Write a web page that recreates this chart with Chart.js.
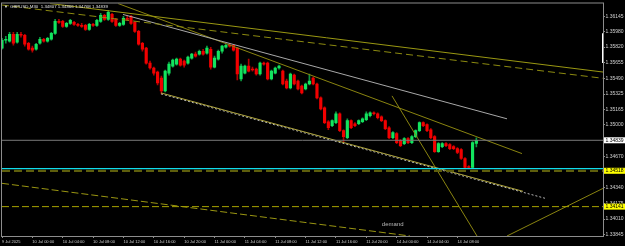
<!DOCTYPE html>
<html>
<head>
<meta charset="utf-8">
<script src="https://cdn.jsdelivr.net/npm/chart.js@4.4.1/dist/chart.umd.min.js"></script>
<style>
  html, body { margin: 0; padding: 0; background: #000; }
  canvas { display: block; }
</style>
</head>
<body>
<canvas id="c" width="625" height="246"></canvas>
<script>
// ---------- DATA ----------
const symbol = 'GBPUSD,M30';
const xTickIdx = [0, 8, 16, 24, 32, 40, 48, 56, 64, 72, 80, 88, 96, 104, 112, 120];
const xTickLabels = ['9 Jul 2025', '10 Jul 00:00', '10 Jul 04:00', '10 Jul 08:00', '10 Jul 12:00', '10 Jul 16:00',
  '10 Jul 20:00', '11 Jul 00:00', '11 Jul 04:00', '11 Jul 08:00', '11 Jul 12:00', '11 Jul 16:00',
  '11 Jul 20:00', '14 Jul 00:00', '14 Jul 04:00', '14 Jul 08:00'];
const yTicks = [1.36145, 1.35980, 1.35820, 1.35655, 1.35490, 1.35325, 1.35165, 1.35000,
  1.34670, 1.34505, 1.34340, 1.34175, 1.34010, 1.33845];
const yMin = 1.33832, yMax = 1.36278;
const xMax = 158.37;

const opens = [
  1.35808, 1.35891, 1.35881, 1.35954, 1.35870, 1.35954, 1.35944, 1.35860, 1.35808, 1.35797,
  1.35860, 1.35902, 1.35881, 1.35902, 1.35964, 1.36090, 1.36090, 1.36038, 1.36069, 1.36079,
  1.36059, 1.36048, 1.36048, 1.36006, 1.36059, 1.36048, 1.36090, 1.36153, 1.36111, 1.36163,
  1.36111, 1.36048, 1.36059, 1.36121, 1.36142, 1.36079, 1.35985, 1.35860, 1.35808, 1.35651,
  1.35599, 1.35557, 1.35494, 1.35358, 1.35546, 1.35619, 1.35640, 1.35693, 1.35672, 1.35651,
  1.35703, 1.35745, 1.35745, 1.35776, 1.35755, 1.35797, 1.35609, 1.35693, 1.35776, 1.35818,
  1.35839, 1.35839, 1.35808, 1.35484, 1.35546, 1.35619, 1.35588, 1.35588, 1.35536, 1.35651,
  1.35651, 1.35484, 1.35546, 1.35599, 1.35567, 1.35463, 1.35389, 1.35525, 1.35463, 1.35410,
  1.35379, 1.35431, 1.35494, 1.35431, 1.35285, 1.35180, 1.35034, 1.34992, 1.35024, 1.35118,
  1.34940, 1.34867, 1.35045, 1.35013, 1.35013, 1.35034, 1.35055, 1.35097, 1.35128, 1.35118,
  1.35086, 1.35045, 1.34971, 1.34867, 1.34909, 1.34835, 1.34804, 1.34856, 1.34815, 1.34877,
  1.34940, 1.35024, 1.35003, 1.34950, 1.34877, 1.34720, 1.34773, 1.34804, 1.34794, 1.34773,
  1.34752, 1.34741, 1.34647, 1.34563, 1.34553, 1.34807];
const highs = [
  1.35912, 1.35933, 1.35975, 1.35975, 1.35975, 1.35975, 1.35954, 1.35870, 1.35829, 1.35860,
  1.35923, 1.35912, 1.35923, 1.35975, 1.36111, 1.36111, 1.36100, 1.36079, 1.36111, 1.36090,
  1.36069, 1.36069, 1.36059, 1.36069, 1.36069, 1.36111, 1.36174, 1.36163, 1.36205, 1.36174,
  1.36121, 1.36079, 1.36142, 1.36153, 1.36153, 1.36090, 1.35996, 1.35870, 1.35818, 1.35672,
  1.35609, 1.35567, 1.35515, 1.35578, 1.35661, 1.35693, 1.35703, 1.35703, 1.35682, 1.35724,
  1.35755, 1.35766, 1.35787, 1.35797, 1.35829, 1.35818, 1.35724, 1.35787, 1.35839, 1.35849,
  1.35860, 1.35849, 1.35818, 1.35640, 1.35630, 1.35693, 1.35609, 1.35599, 1.35661, 1.35661,
  1.35661, 1.35578, 1.35609, 1.35630, 1.35578, 1.35484, 1.35546, 1.35536, 1.35473, 1.35421,
  1.35442, 1.35536, 1.35504, 1.35442, 1.35295, 1.35191, 1.35045, 1.35055, 1.35139, 1.35128,
  1.34950, 1.35065, 1.35055, 1.35024, 1.35055, 1.35076, 1.35139, 1.35139, 1.35139, 1.35128,
  1.35097, 1.35055, 1.34982, 1.34930, 1.34919, 1.34846, 1.34867, 1.34867, 1.34888, 1.34950,
  1.35034, 1.35034, 1.35013, 1.34961, 1.34888, 1.34815, 1.34815, 1.34815, 1.34804, 1.34783,
  1.34762, 1.34752, 1.34658, 1.34574, 1.34825, 1.34866];
const lows = [
  1.35797, 1.35860, 1.35870, 1.35839, 1.35860, 1.35923, 1.35829, 1.35787, 1.35766, 1.35787,
  1.35849, 1.35870, 1.35870, 1.35891, 1.35954, 1.36069, 1.36027, 1.36027, 1.36059, 1.36048,
  1.36038, 1.36027, 1.35996, 1.35996, 1.36038, 1.36038, 1.36079, 1.36100, 1.36100, 1.36079,
  1.36038, 1.36038, 1.36048, 1.36100, 1.36059, 1.35975, 1.35839, 1.35776, 1.35640, 1.35588,
  1.35525, 1.35421, 1.35327, 1.35348, 1.35525, 1.35609, 1.35630, 1.35619, 1.35609, 1.35640,
  1.35693, 1.35714, 1.35734, 1.35734, 1.35745, 1.35588, 1.35599, 1.35682, 1.35755, 1.35808,
  1.35818, 1.35776, 1.35473, 1.35463, 1.35536, 1.35557, 1.35567, 1.35525, 1.35525, 1.35630,
  1.35473, 1.35473, 1.35536, 1.35588, 1.35421, 1.35379, 1.35379, 1.35421, 1.35369, 1.35327,
  1.35369, 1.35421, 1.35421, 1.35274, 1.35159, 1.35013, 1.34950, 1.34982, 1.35013, 1.34930,
  1.34825, 1.34856, 1.34961, 1.34982, 1.35003, 1.35024, 1.35045, 1.35086, 1.35107, 1.35065,
  1.35034, 1.34950, 1.34856, 1.34856, 1.34804, 1.34773, 1.34794, 1.34804, 1.34804, 1.34867,
  1.34930, 1.34982, 1.34930, 1.34856, 1.34710, 1.34710, 1.34762, 1.34773, 1.34741, 1.34741,
  1.34699, 1.34637, 1.34543, 1.34543, 1.34543, 1.34768];
const closes = [
  1.35891, 1.35902, 1.35954, 1.35860, 1.35954, 1.35944, 1.35849, 1.35797, 1.35787, 1.35849,
  1.35902, 1.35881, 1.35912, 1.35964, 1.36090, 1.36079, 1.36038, 1.36069, 1.36100, 1.36059,
  1.36048, 1.36038, 1.36006, 1.36059, 1.36048, 1.36100, 1.36153, 1.36111, 1.36184, 1.36090,
  1.36048, 1.36069, 1.36121, 1.36111, 1.36069, 1.35985, 1.35849, 1.35797, 1.35651, 1.35599,
  1.35546, 1.35442, 1.35358, 1.35567, 1.35640, 1.35682, 1.35693, 1.35630, 1.35630, 1.35714,
  1.35745, 1.35724, 1.35776, 1.35745, 1.35808, 1.35609, 1.35703, 1.35776, 1.35829, 1.35839,
  1.35829, 1.35787, 1.35536, 1.35619, 1.35619, 1.35567, 1.35578, 1.35536, 1.35651, 1.35640,
  1.35484, 1.35567, 1.35599, 1.35619, 1.35431, 1.35389, 1.35536, 1.35431, 1.35379, 1.35337,
  1.35431, 1.35463, 1.35431, 1.35285, 1.35170, 1.35024, 1.34971, 1.35045, 1.35118, 1.34940,
  1.34877, 1.35045, 1.34971, 1.34992, 1.35045, 1.35065, 1.35118, 1.35128, 1.35118, 1.35076,
  1.35045, 1.34961, 1.34867, 1.34919, 1.34815, 1.34783, 1.34856, 1.34815, 1.34877, 1.34940,
  1.35024, 1.34992, 1.34940, 1.34867, 1.34720, 1.34804, 1.34804, 1.34783, 1.34752, 1.34752,
  1.34710, 1.34647, 1.34553, 1.34553, 1.34815, 1.34839];

// drawn objects: [barIndex, price] endpoints
const upperSolid   = [[12.65, 1.36278], [158.37, 1.35557]];
const upperDashed  = [[0, 1.36262], [158.37, 1.35491]];
const grayTrend    = [[31.88, 1.36163], [133.07, 1.35065]];
const diagTrend    = [[30.57, 1.36278], [137.02, 1.34699]];
const lowerGray    = [[41.90, 1.35327], [143.08, 1.34229]];
const lowerYellow  = [[41.90, 1.35337], [137.29, 1.34302]];
const steepTrend   = [[102.77, 1.35306], [125.16, 1.33832]];
const risingTrend  = [[133.07, 1.33832], [158.37, 1.34333]];
const longDashDot  = [[0, 1.34386], [107.51, 1.33832]];
const supportLevel = 1.34141;
const demandLevel  = 1.34518;
const cyanLevel    = 1.34540;
const currentPrice = 1.34839;
const scrollMark   = [1.35964, 1.35651];
const noteText = 'demand';
const noteAt = [100.1, 1.33952];
const priceBoxes = [[1.34839, '1.34839', '#ffffff'], [1.34518, '1.34518', '#ffff00'], [1.34141, '1.34141', '#ffff00']];

// ---------- CHART ----------
const GREEN = '#12e45e', RED = '#f20000';
const GREEN_W = '#0c9a40', RED_W = '#b00000';
const idx = opens.map((_, i) => i);
const up = i => closes[i] >= opens[i];

function lineDs(pts, color, width, dash) {
  return { type: 'line', data: pts.map(p => ({ x: p[0], y: p[1] })), borderColor: color,
    borderWidth: width, borderDash: dash || [], pointRadius: 0, fill: false, tension: 0, order: 1 };
}
function hLine(v, color, width, dash) {
  return lineDs([[0, v], [xMax, v]], color, width, dash);
}

const last = opens.length - 1;
const headerText = symbol + '  ' + opens[last].toFixed(5) + ' ' + highs[last].toFixed(5) + ' ' +
  lows[last].toFixed(5) + ' ' + closes[last].toFixed(5);

const overlay = {
  id: 'overlay',
  afterDatasetsDraw(chart) {
    const { ctx, chartArea: a, scales: { x, y } } = chart;
    ctx.save();
    ctx.strokeStyle = '#8c8c8c'; ctx.lineWidth = 1;
    ctx.strokeRect(a.left - 0.5, a.top - 0.5, a.right - a.left + 1, a.bottom - a.top + 1);
    ctx.fillStyle = '#e0e0e0'; ctx.textBaseline = 'middle'; ctx.textAlign = 'left';
    ctx.font = '4px "Liberation Sans"';
    ctx.fillText('\u25BC', a.left + 2, a.top + 3);
    ctx.font = '4.4px "Liberation Sans"';
    ctx.fillText(headerText, a.left + 8, a.top + 3);
    ctx.fillStyle = '#b8b8b8'; ctx.font = '6px "Liberation Sans"';
    ctx.fillText(noteText, x.getPixelForValue(noteAt[0]), y.getPixelForValue(noteAt[1]));
    ctx.restore();
  },
  afterDraw(chart) {
    const { ctx, chartArea: a, scales: { y } } = chart;
    ctx.save();
    ctx.font = '5px "Liberation Sans"'; ctx.textBaseline = 'middle'; ctx.textAlign = 'left';
    priceBoxes.forEach(([v, t, bg]) => {
      const yy = y.getPixelForValue(v);
      ctx.fillStyle = bg; ctx.fillRect(a.right + 1, yy - 3, chart.width - a.right - 1, 6);
      ctx.fillStyle = '#000'; ctx.fillText(t, a.right + 2.5, yy + 0.3);
    });
    ctx.restore();
  }
};

new Chart(document.getElementById('c'), {
  type: 'bar',
  data: {
    datasets: [
      { type: 'bar', data: idx.map(i => ({ x: i, y: [lows[i], highs[i]] })), barThickness: 1,
        backgroundColor: c => up(c.dataIndex) ? GREEN_W : RED_W, borderWidth: 0, grouped: false,
        minBarLength: 1, order: 6 },
      { type: 'bar', data: idx.map(i => ({ x: i, y: [opens[i], closes[i]] })), barThickness: 2.5,
        backgroundColor: c => up(c.dataIndex) ? GREEN : RED, borderWidth: 0, grouped: false,
        minBarLength: 1, order: 5 },
      hLine(currentPrice, '#7a7a7a', 1),
      hLine(supportLevel, '#a8a400', 1, [7, 3]),
      hLine(demandLevel, '#5e5e0c', 2.2, [8, 4]),
      hLine(cyanLevel, '#10dcec', 1.3),
      lineDs(upperSolid, '#9a9812', 1),
      lineDs(upperDashed, '#8c8a10', 1, [7, 4]),
      lineDs(grayTrend, '#a8a8a8', 1),
      lineDs(diagTrend, '#8a8410', 1),
      lineDs(lowerYellow, '#b2a840', 1),
      lineDs(lowerGray, '#b8b8b8', 1, [2, 2]),
      lineDs(steepTrend, '#8a8410', 1),
      lineDs(risingTrend, '#8a8410', 1),
      lineDs(longDashDot, '#9a9612', 1, [7, 3]),
      Object.assign(lineDs([[xMax, scrollMark[0]], [xMax, scrollMark[1]]], '#ffffff', 2), { clip: false })
    ]
  },
  options: {
    responsive: false, animation: false, events: [],
    layout: { padding: { left: 2, top: 2, right: 0, bottom: 0 } },
    plugins: { legend: { display: false }, tooltip: { enabled: false } },
    scales: {
      x: {
        type: 'linear', min: 0, max: xMax, offset: false,
        afterFit: s => { s.height = 10; },
        afterBuildTicks: s => { s.ticks = xTickIdx.map(v => ({ value: v })); },
        ticks: { callback: (v, i) => xTickLabels[i], align: 'start', autoSkip: false, maxRotation: 0,
          minRotation: 0, padding: 1, color: '#d0d0d0', font: { family: 'Liberation Sans', size: 4 } },
        grid: { drawOnChartArea: false, offset: false, tickLength: 2, color: '#8c8c8c' },
        border: { display: false }
      },
      y: {
        type: 'linear', position: 'right', min: yMin, max: yMax,
        afterFit: s => { s.width = 22; },
        afterBuildTicks: s => { s.ticks = yTicks.map(v => ({ value: v })); },
        ticks: { callback: v => v.toFixed(5), crossAlign: 'near', padding: 0.5, color: '#d0d0d0',
          font: { family: 'Liberation Sans', size: 5 } },
        grid: { drawOnChartArea: false, tickLength: 2, color: '#8c8c8c' },
        border: { display: false }
      }
    }
  },
  plugins: [overlay]
});
</script>
</body>
</html>
